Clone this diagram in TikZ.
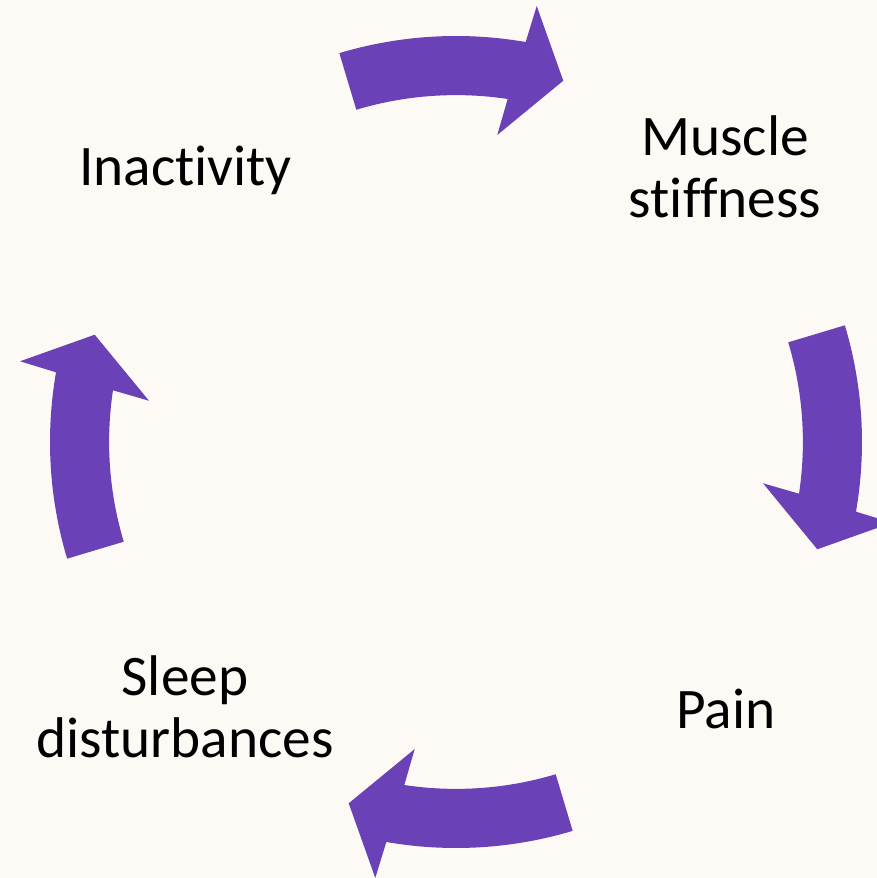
\documentclass[tikz,border=0pt]{standalone}
\usepackage{fontspec}
\setmainfont[Ligatures={NoCommon}]{Carlito}
\definecolor{bgcream}{HTML}{FDFAF5}
\definecolor{arrowpurple}{HTML}{6A41B6}
\begin{document}
\begin{tikzpicture}[x=0.75pt,y=0.75pt,
  label/.style={font=\fontsize{43}{46.5}\selectfont, text=black, inner sep=0pt, align=center},
  cycarrow/.pic={
    \fill[arrowpurple] (106.7:406) arc[start angle=106.7, end angle=80.12, radius=406]
      -- (79.51:443.4) -- (73.46:376.9) -- (82.34:309.8) -- (81.43:346.9)
      arc[start angle=81.43, end angle=106.7, radius=346.9] -- cycle;
  }]
\fill[bgcream] (-456,-436) rectangle (421,442);
\useasboundingbox (-456,-436) rectangle (421,442);
\pic[rotate=0] {cycarrow};
\pic[rotate=-90] {cycarrow};
\pic[rotate=-180] {cycarrow};
\pic[rotate=-270] {cycarrow};
\node[label, anchor=base] (inact) at (-270.5,256) {Inactivity};
\node[label, anchor=base] (muscle) at (269,224.5) {Muscle\\stiffness};
\node[label, anchor=base] (pain) at (270,-286) {Pain};
\node[label, anchor=base] (sleep) at (-271,-315.3) {Sleep\\disturbances};
\end{tikzpicture}
\end{document}
